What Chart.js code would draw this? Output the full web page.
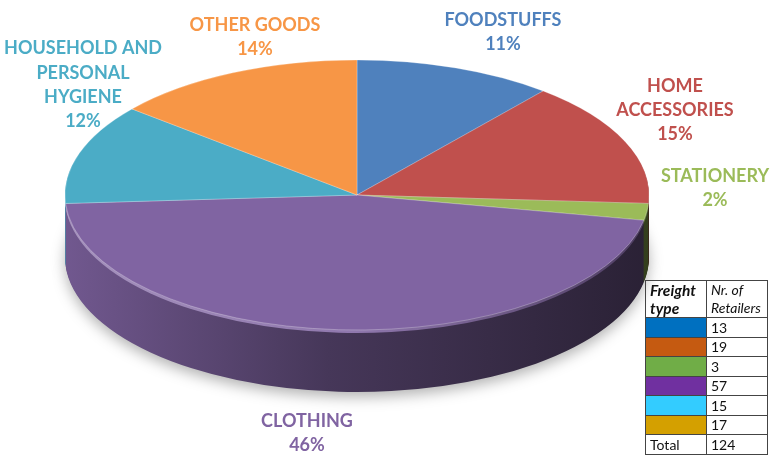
<!DOCTYPE html>
<html>
<head>
<meta charset="utf-8">
<script src="https://cdn.jsdelivr.net/npm/chart.js@4.4.0/dist/chart.umd.min.js"></script>
<style>
  body { margin: 0; background: #fff; }
  #wrap { position: relative; width: 770px; height: 457px; overflow: hidden; }
  #retailers { position: absolute; left: 645px; top: 280px; width: 123px; table-layout: fixed;
    border-collapse: collapse; font-family: Lato, sans-serif; font-size: 14px; color: #111; }
  #retailers td { border: 1px solid #444; padding: 0 4px; height: 18.5px; line-height: 15px; }
  #retailers tr.head td { height: 36px; line-height: 18px; }
  #retailers tr.head td:first-child { font-size: 15.5px; }
</style>
</head>
<body>
<div id="wrap">
  <canvas id="pie" width="770" height="457"></canvas>
  <table id="retailers"></table>
</div>
<script>
const categories = ['FOODSTUFFS', 'HOME ACCESSORIES', 'STATIONERY', 'CLOTHING', 'HOUSEHOLD AND PERSONAL HYGIENE', 'OTHER GOODS'];
const shares = [11, 15, 2, 46, 12, 14];          // % printed on the pie
const retailers = [13, 19, 3, 57, 15, 17];      // counts in the table
const sliceColors = ['#4f81bd', '#c0504d', '#9bbb59', '#8064a2', '#4bacc6', '#f79646'];
const tableColors = ['#0070c0', '#c55a11', '#70ad47', '#7030a0', '#33ccff', '#d4a000'];

const total = retailers.reduce((a, b) => a + b, 0);

// table in the corner
let rows = '<tr class="head"><td><b><i>Freight<br>type</i></b></td><td><i>Nr. of<br>Retailers</i></td></tr>';
for (let i = 0; i < retailers.length; i++) {
  rows += '<tr><td style="background:' + tableColors[i] + '"></td><td>' + retailers[i] + '</td></tr>';
}
rows += '<tr><td>Total</td><td>' + total + '</td></tr>';
document.getElementById('retailers').innerHTML = rows;

// look of the fake 3d pie
const squash = 135 / 292;
const depth = 62;
const labelCentres = [[503, 32], [675, 110], [715, 188], [307, 433], [83, 85], [255, 37]];

function shade(hex, f) {
  let rgb = [1, 3, 5].map(i => parseInt(hex.substr(i, 2), 16));
  rgb = rgb.map(c => f > 1 ? Math.round(c + (255 - c) * (f - 1)) : Math.round(c * f));
  return 'rgb(' + rgb.join(',') + ')';
}

function flatten(ctx, cx, cy) {
  ctx.translate(cx, cy);
  ctx.scale(1, squash);
  ctx.translate(-cx, -cy);
}

function drawLike(arc, ctx, fill) {
  const copy = Object.create(arc);
  copy.options = Object.assign({}, arc.options, { backgroundColor: fill, borderWidth: 0 });
  copy.draw(ctx);
}

const pie3d = {
  id: 'pie3d',
  beforeDatasetsDraw(chart) {
    const ctx = chart.ctx;
    const arcs = chart.getDatasetMeta(0).data;
    const cx = arcs[0].x, cy = arcs[0].y, r = arcs[0].outerRadius;
    const sides = sliceColors.map(c => {
      const g = ctx.createLinearGradient(cx - r, 0, cx + r, 0);
      g.addColorStop(0, shade(c, 0.88));
      g.addColorStop(0.45, shade(c, 0.55));
      g.addColorStop(1, shade(c, 0.33));
      return g;
    });
    const rims = sliceColors.map(c => {
      const g = ctx.createLinearGradient(cx - r, 0, cx + r, 0);
      g.addColorStop(0, shade(c, 1.3));
      g.addColorStop(0.5, shade(c, 1.12));
      g.addColorStop(1, shade(c, 0.6));
      return g;
    });
    for (let d = depth; d >= 1; d--) {
      ctx.save();
      if (d === depth) {
        ctx.shadowColor = 'rgba(0,0,0,0.3)';
        ctx.shadowBlur = 14;
        ctx.shadowOffsetY = 5;
      }
      ctx.translate(0, d);
      flatten(ctx, cx, cy);
      arcs.forEach((arc, i) => drawLike(arc, ctx, d > 3 ? sides[i] : rims[i]));
      ctx.restore();
    }
    ctx.save();
    flatten(ctx, cx, cy);
  },
  afterDatasetsDraw(chart) {
    chart.ctx.restore();
  }
};

const sliceLabels = {
  id: 'sliceLabels',
  afterDraw(chart) {
    const ctx = chart.ctx;
    ctx.save();
    ctx.font = 'bold 18px Lato, sans-serif';
    ctx.textAlign = 'center';
    ctx.textBaseline = 'middle';
    categories.forEach((name, i) => {
      const lines = [];
      let cur = '';
      name.split(' ').forEach(w => {
        const t = cur ? cur + ' ' + w : w;
        if (cur && ctx.measureText(t).width > 160) { lines.push(cur); cur = w; } else cur = t;
      });
      lines.push(cur);
      lines.push(shares[i] + '%');
      const [x, y] = labelCentres[i];
      const lh = 24.3;
      const top = y - (lines.length - 1) * lh / 2;
      ctx.fillStyle = sliceColors[i];
      lines.forEach((l, k) => ctx.fillText(l, x, top + k * lh));
    });
    ctx.restore();
  }
};

new Chart(document.getElementById('pie'), {
  type: 'pie',
  data: {
    labels: categories,
    datasets: [{
      data: shares,
      backgroundColor: sliceColors,
      borderColor: 'rgba(255,255,255,0.35)',
      borderWidth: 1,
      radius: 292,
      clip: false
    }]
  },
  options: {
    responsive: false,
    animation: false,
    events: [],
    layout: { padding: { left: 0, right: 56, top: 0, bottom: 67 } },
    plugins: { legend: { display: false }, tooltip: { enabled: false } }
  },
  plugins: [pie3d, sliceLabels]
});
</script>
</body>
</html>
